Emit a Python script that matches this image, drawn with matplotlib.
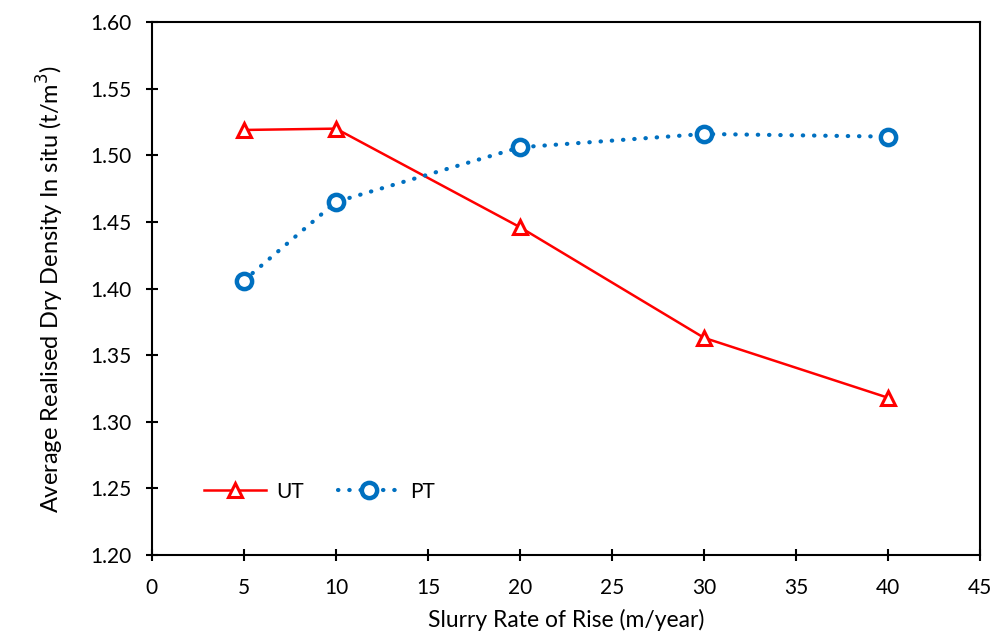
import matplotlib
matplotlib.use("Agg")
import matplotlib.pyplot as plt

x = [5, 10, 20, 30, 40]
ut = [1.519, 1.520, 1.446, 1.363, 1.318]
pt = [1.406, 1.465, 1.506, 1.516, 1.514]

plt.rcParams['font.family'] = ['Lato', 'DejaVu Sans']

fig = plt.figure(figsize=(9.93, 6.39), dpi=100)
ax = fig.add_axes([0.153, 0.1315, 0.834, 0.834])

ax.plot(x, ut, color='#FF0000', lw=1.8, marker='^', markersize=10,
        markerfacecolor='white', markeredgecolor='#FF0000', markeredgewidth=2.2, label='UT')
ax.plot(x, pt, color='#0070C0', lw=3, linestyle=(0, (0.1, 2.6)), dash_capstyle='round',
        marker='o', markersize=11, markerfacecolor='white', markeredgecolor='#0070C0',
        markeredgewidth=3.2, label='PT')

ax.set_xlim(0, 45)
ax.set_ylim(1.20, 1.60)
ax.set_xticks(range(0, 46, 5))
ax.set_yticks([1.20, 1.25, 1.30, 1.35, 1.40, 1.45, 1.50, 1.55, 1.60])
ax.set_yticklabels([f"{v:.2f}" for v in ax.get_yticks()])
ax.tick_params(direction='inout', length=9, width=1.5, labelsize=15, pad=10)
ax.tick_params(axis='x', pad=12)
for s in ax.spines.values():
    s.set_linewidth(1.5)

ax.set_xlabel('Slurry Rate of Rise (m/year)', fontsize=16.5, labelpad=8)
ax.set_ylabel('Average Realised Dry Density In situ (t/m$^3$)', fontsize=17, labelpad=18)

ax.legend(loc='lower left', bbox_to_anchor=(0.04, 0.065), ncol=2, frameon=False,
          fontsize=15, handlelength=3.0, columnspacing=1.6, handletextpad=0.5)

fig.savefig('out.png', dpi=100)
